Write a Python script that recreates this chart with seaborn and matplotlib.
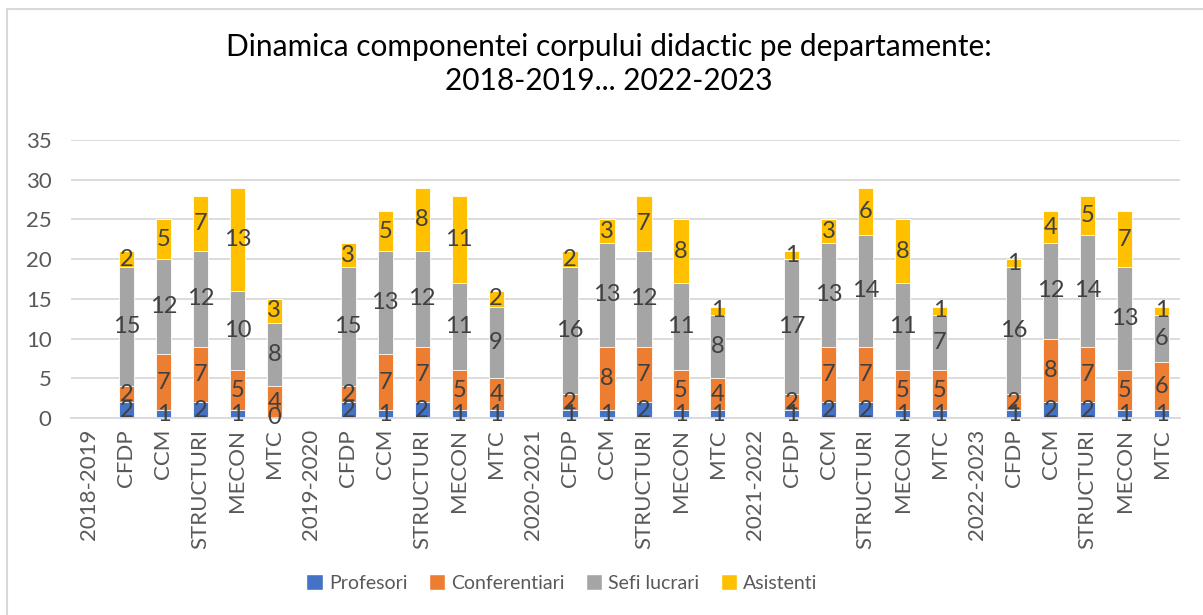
import pandas as pd
import numpy as np
import seaborn as sns
import matplotlib.pyplot as plt
from matplotlib.patches import Patch, Rectangle

# categories on the x axis (year rows are empty separators)
ani = ["2018-2019", "2019-2020", "2020-2021", "2021-2022", "2022-2023"]
departamente = ["CFDP", "CCM", "STRUCTURI", "MECON", "MTC"]

# values per year, in department order
profesori = [[2, 1, 2, 1, 0], [2, 1, 2, 1, 1], [1, 1, 2, 1, 1], [1, 2, 2, 1, 1], [1, 2, 2, 1, 1]]
conferentiari = [[2, 7, 7, 5, 4], [2, 7, 7, 5, 4], [2, 8, 7, 5, 4], [2, 7, 7, 5, 5], [2, 8, 7, 5, 6]]
sefi_lucrari = [[15, 12, 12, 10, 8], [15, 13, 12, 11, 9], [16, 13, 12, 11, 8], [17, 13, 14, 11, 7], [16, 12, 14, 13, 6]]
asistenti = [[2, 5, 7, 13, 3], [3, 5, 8, 11, 2], [2, 3, 7, 8, 1], [1, 3, 6, 8, 1], [1, 4, 5, 7, 1]]

serii = ["Profesori", "Conferentiari", "Sefi lucrari", "Asistenti"]
culori = ["#4472C4", "#ED7D31", "#A5A5A5", "#FFC000"]

#building the flat table, one row per x position
etichete = []
rows = []
for i, an in enumerate(ani):
    etichete.append(an)
    rows.append([np.nan] * 4)
    for j, d in enumerate(departamente):
        etichete.append(d)
        rows.append([profesori[i][j], conferentiari[i][j], sefi_lucrari[i][j], asistenti[i][j]])
df = pd.DataFrame(rows, columns=serii)
df["poz"] = range(len(etichete))

# cumulative sums for the stacked look
cum = df[serii].cumsum(axis=1)
cum["poz"] = df["poz"]

sns.set_style("white")
plt.rcParams["font.family"] = ["Lato", "DejaVu Sans"]

fig = plt.figure(figsize=(12.03, 6.15), dpi=100)
ax = fig.add_axes([71 / 1203, 1 - 418 / 615, (1180 - 71) / 1203, 278 / 615])

# draw from the top series down so each lower segment covers the previous one
for k in range(3, -1, -1):
    sns.barplot(data=cum, x="poz", y=serii[k], order=list(range(len(etichete))),
                color=culori[k], saturation=1, width=0.41, edgecolor="white",
                linewidth=0.6, ax=ax, errorbar=None, native_scale=False)

# value labels in the middle of each segment
for idx, r in df.iterrows():
    if np.isnan(r["Profesori"]):
        continue
    for k, s in enumerate(serii):
        top = cum.loc[idx, s]
        ax.text(r["poz"], top - r[s] / 2, str(int(r[s])), ha="center", va="center",
                fontsize=17, color="#404040")

ax.set_ylim(0, 35)
ax.set_xlim(-0.5, len(etichete) - 0.5)
ax.set_yticks(range(0, 36, 5))
ax.yaxis.grid(True, color="#D9D9D9", linewidth=1.3)
ax.set_axisbelow(True)
ax.set_xticks(range(len(etichete)))
ax.set_xticklabels(etichete, rotation=90)
ax.tick_params(axis="both", length=0, labelsize=16, colors="#595959")
ax.tick_params(axis="y", pad=14)
ax.tick_params(axis="x", pad=8)
ax.set_xlabel("")
ax.set_ylabel("")
for sp in ["top", "right", "left"]:
    ax.spines[sp].set_visible(False)
ax.spines["bottom"].set_color("#D9D9D9")
ax.spines["bottom"].set_linewidth(1.3)

fig.suptitle("Dinamica componentei corpului didactic pe departamente:\n2018-2019... 2022-2023",
             x=0.506, y=1 - 33 / 615, va="top", fontsize=21.5, linespacing=1.25, color="#000000")

handles = [Patch(facecolor=c, label=s) for s, c in zip(serii, culori)]
fig.legend(handles=handles, loc="center", bbox_to_anchor=(562 / 1203, 1 - 583 / 615), ncol=4,
           frameon=False, fontsize=14, handlelength=0.85, handleheight=0.85,
           handletextpad=0.3, columnspacing=1.1, labelcolor="#595959")

# light border around the chart area
fig.patches.append(Rectangle((7 / 1203, -0.05), 1.1, 1 - 9 / 615 + 0.05, transform=fig.transFigure,
                             fill=False, edgecolor="#D9D9D9", linewidth=1.5))

fig.savefig("out.png", dpi=100)
